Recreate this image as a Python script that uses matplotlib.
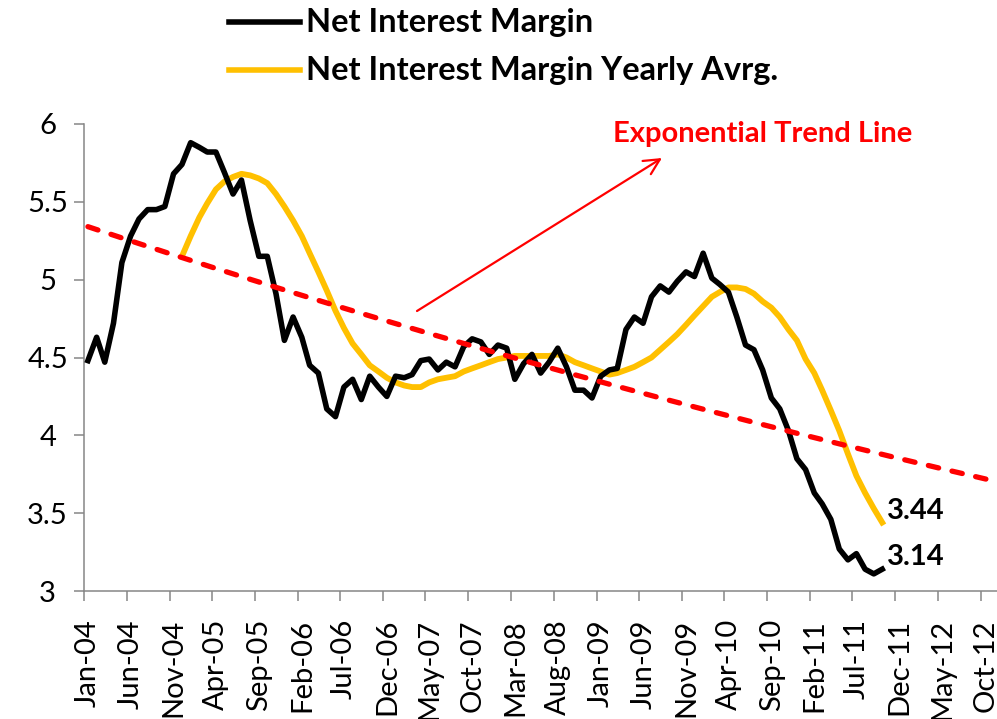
import numpy as np
import pandas as pd
import matplotlib
matplotlib.use("Agg")
import matplotlib.pyplot as plt
import matplotlib.dates as mdates
from matplotlib.lines import Line2D
from matplotlib.transforms import ScaledTranslation

# monthly net interest margin, Jan-04 .. Oct-11
nim = [4.48, 4.63, 4.47, 4.72, 5.11, 5.28, 5.39, 5.45, 5.45, 5.47, 5.68, 5.74,
       5.88, 5.85, 5.82, 5.82, 5.69, 5.55, 5.64, 5.38, 5.15, 5.15, 4.91, 4.61,
       4.76, 4.63, 4.45, 4.40, 4.17, 4.12, 4.31, 4.36, 4.23, 4.38, 4.31, 4.25,
       4.38, 4.37, 4.39, 4.48, 4.49, 4.42, 4.47, 4.44, 4.57, 4.62, 4.60, 4.52,
       4.58, 4.56, 4.36, 4.46, 4.52, 4.40, 4.47, 4.56, 4.44, 4.29, 4.29, 4.24,
       4.38, 4.42, 4.43, 4.68, 4.76, 4.72, 4.89, 4.96, 4.92, 4.99, 5.05, 5.02,
       5.17, 5.01, 4.97, 4.92, 4.76, 4.58, 4.55, 4.42, 4.24, 4.17, 4.03, 3.85,
       3.78, 3.63, 3.56, 3.46, 3.27, 3.20, 3.24, 3.14, 3.11, 3.14]

# yearly average, starts at Dec-04
nim_avg = [5.15, 5.28, 5.40, 5.49, 5.58, 5.63, 5.66, 5.68, 5.67, 5.65, 5.62, 5.55,
           5.47, 5.38, 5.28, 5.17, 5.05, 4.93, 4.80, 4.69, 4.59, 4.52, 4.45, 4.41,
           4.37, 4.34, 4.32, 4.31, 4.31, 4.34, 4.36, 4.37, 4.38, 4.41, 4.43, 4.45,
           4.47, 4.49, 4.50, 4.51, 4.51, 4.51, 4.51, 4.51, 4.52, 4.50, 4.47, 4.45,
           4.43, 4.41, 4.39, 4.40, 4.42, 4.44, 4.47, 4.50, 4.55, 4.60, 4.65, 4.71,
           4.77, 4.83, 4.89, 4.92, 4.95, 4.95, 4.94, 4.91, 4.86, 4.82, 4.76, 4.68,
           4.61, 4.49, 4.40, 4.29, 4.16, 4.03, 3.88, 3.74, 3.63, 3.53, 3.44]
avg_start = len(nim) - len(nim_avg)

dates = pd.date_range("2004-01-01", periods=len(nim), freq="MS") + pd.Timedelta(days=14)
avg_dates = dates[avg_start:]

tick_dates = pd.date_range("2004-01-01", "2012-10-01", freq="5MS")
tick_labels = [d.strftime("%b-%y") for d in tick_dates]
y_ticks = [3, 3.5, 4, 4.5, 5, 5.5, 6]
y_labels = ["3", "3.5", "4", "4.5", "5", "5.5", "6"]

x_end = pd.Timestamp("2012-11-27")

# exponential trend line (log-linear fit, like excel)
xnum = mdates.date2num(dates)
b, a = np.polyfit(xnum, np.log(nim), 1)
trend_x = np.linspace(xnum[0], mdates.date2num(x_end), 200)
trend_y = np.exp(a + b * trend_x)

plt.rcParams["font.family"] = ["Lato", "DejaVu Sans"]
W, H = 997, 719
fig = plt.figure(figsize=(W / 100, H / 100), dpi=100)
ax = fig.add_axes([84 / W, 128 / H, 913 / W, 467 / H])

ax.plot(avg_dates, nim_avg, color="#FFC000", lw=4.2, solid_joinstyle="round", zorder=2)
ax.plot(dates, nim, color="black", lw=4.0, solid_joinstyle="round", zorder=3)
ax.plot(trend_x, trend_y, color="#FF0000", lw=3.8, dashes=(2, 2.6),
        dash_capstyle="round", zorder=4)

ax.set_xlim(pd.Timestamp("2004-01-01"), x_end)
ax.set_ylim(3, 6)

for s in ["top", "right"]:
    ax.spines[s].set_visible(False)
for s in ["left", "bottom"]:
    ax.spines[s].set_color("#868686")
    ax.spines[s].set_linewidth(1.1)

ax.set_xticks(tick_dates)
ax.set_xticklabels(tick_labels, rotation=90, ha="center", va="top")
ax.set_yticks(y_ticks)
ax.set_yticklabels(y_labels, ha="center")
ax.tick_params(direction="out", length=7.2, width=1.1, color="#868686", labelsize=21)
ax.tick_params(axis="y", pad=19)
ax.tick_params(axis="x", pad=13)
shift = ScaledTranslation(3 / 72, 0, fig.dpi_scale_trans)
for lab in ax.get_xticklabels():
    lab.set_transform(lab.get_transform() + shift)

# end-point labels
ax.annotate(f"{nim_avg[-1]:.2f}", xy=(avg_dates[-1], nim_avg[-1]), xytext=(3.5, 8),
            textcoords="offset points", fontsize=21, fontweight="bold", va="center")
ax.annotate(f"{nim[-1]:.2f}", xy=(dates[-1], nim[-1]), xytext=(3.5, 9),
            textcoords="offset points", fontsize=21, fontweight="bold", va="center")

# legend drawn by hand above the plot
rows = [("Net Interest Margin", "black", 21.7),
        ("Net Interest Margin Yearly Avrg.", "#FFC000", 70)]
for label, color, ypix in rows:
    yf = 1 - ypix / H
    fig.add_artist(Line2D([229 / W, 300 / W], [yf, yf], color=color, lw=4.0))
    fig.text(306 / W, 1 - (ypix + 10) / H, label, fontsize=23.5, fontweight="bold",
             va="baseline")

fig.text(613 / W, 1 - 142 / H, "Exponential Trend Line", color="#FF0000",
         fontsize=21, fontweight="bold", va="baseline")
ax.annotate("", xy=(662 / W, 1 - 158 / H), xycoords="figure fraction",
            xytext=(417 / W, 1 - 311 / H), textcoords="figure fraction",
            arrowprops=dict(arrowstyle="->", color="#FF0000", lw=1.6,
                            mutation_scale=28, shrinkA=0, shrinkB=0))

fig.savefig("out.png", dpi=100)
